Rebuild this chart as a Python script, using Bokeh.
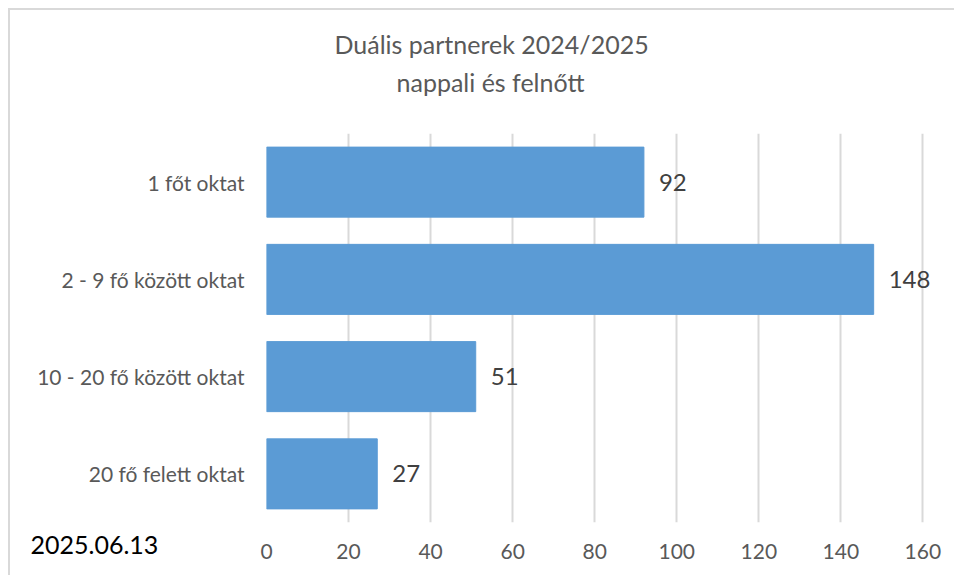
from bokeh.plotting import figure
from bokeh.models import ColumnDataSource, FactorRange, FixedTicker, Title
from bokeh.core.properties import value
from bokeh.embed import file_html
from bokeh.resources import INLINE

categories = ["1 főt oktat", "2 - 9 fő között oktat", "10 - 20 fő között oktat", "20 fő felett oktat"]
counts = [92, 148, 51, 27]
x_ticks = [0, 20, 40, 60, 80, 100, 120, 140, 160]
title_lines = ["Duális partnerek 2024/2025", "nappali és felnőtt"]
date_text = "2025.06.13"

FONT = "Lato"
GRAY = "#595959"

src = ColumnDataSource(dict(cat=categories, val=counts, lbl=[str(v) for v in counts]))

p = figure(width=946, height=567, output_backend="svg", toolbar_location=None,
           y_range=FactorRange(*reversed(categories), range_padding=0),
           x_range=(0, 166),
           min_border_left=256, min_border_right=9, min_border_top=123, min_border_bottom=55)

p.styles = {"margin-left": "8px", "margin-top": "8px",
            "border-left": "2px solid #d9d9d9", "border-top": "2px solid #d9d9d9"}
p.outline_line_color = None
p.background_fill_color = "white"
p.border_fill_color = "white"

p.hbar(y="cat", right="val", left=0, height=0.72, source=src, color="#5b9bd5")

p.text(x="val", y="cat", text="lbl", source=src, x_offset=15,
       text_font=value(FONT), text_font_size="24px", text_color="#404040",
       text_baseline="middle", text_align="left")

p.xaxis.ticker = FixedTicker(ticks=x_ticks)
p.xaxis.axis_line_color = None
p.xaxis.major_tick_line_color = None
p.xaxis.minor_tick_line_color = None
p.xaxis.major_label_text_font = FONT
p.xaxis.major_label_text_font_size = "21px"
p.xaxis.major_label_text_color = GRAY
p.xaxis.major_label_standoff = 15

p.yaxis.axis_line_color = None
p.yaxis.major_tick_line_color = None
p.yaxis.minor_tick_line_color = None
p.yaxis.major_label_text_font = FONT
p.yaxis.major_label_text_font_size = "21px"
p.yaxis.major_label_standoff = 16
p.yaxis.major_label_text_color = GRAY

p.xgrid.grid_line_color = "#d9d9d9"
p.xgrid.grid_line_width = 2
p.ygrid.grid_line_color = None

# spacer, then title lines (closest to frame first)
p.add_layout(Title(text=" ", text_font=FONT, text_font_size="20px", standoff=8), "above")
p.add_layout(Title(text=title_lines[1], align="left", offset=130, text_font=FONT,
                   text_font_size="25px", text_color=GRAY, text_font_style="normal",
                   standoff=6), "above")
p.add_layout(Title(text=title_lines[0], align="left", offset=68, text_font=FONT,
                   text_font_size="25px", text_color=GRAY, text_font_style="normal",
                   standoff=6), "above")

# date stamp, placed in the panel below the x axis and pulled up beside it
p.add_layout(Title(text=date_text, align="left", offset=-236, vertical_align="top",
                   text_font=FONT, text_font_size="25px", text_color="black",
                   text_font_style="normal", standoff=-52), "below")

open("out.html", "w").write(file_html(p, INLINE))
